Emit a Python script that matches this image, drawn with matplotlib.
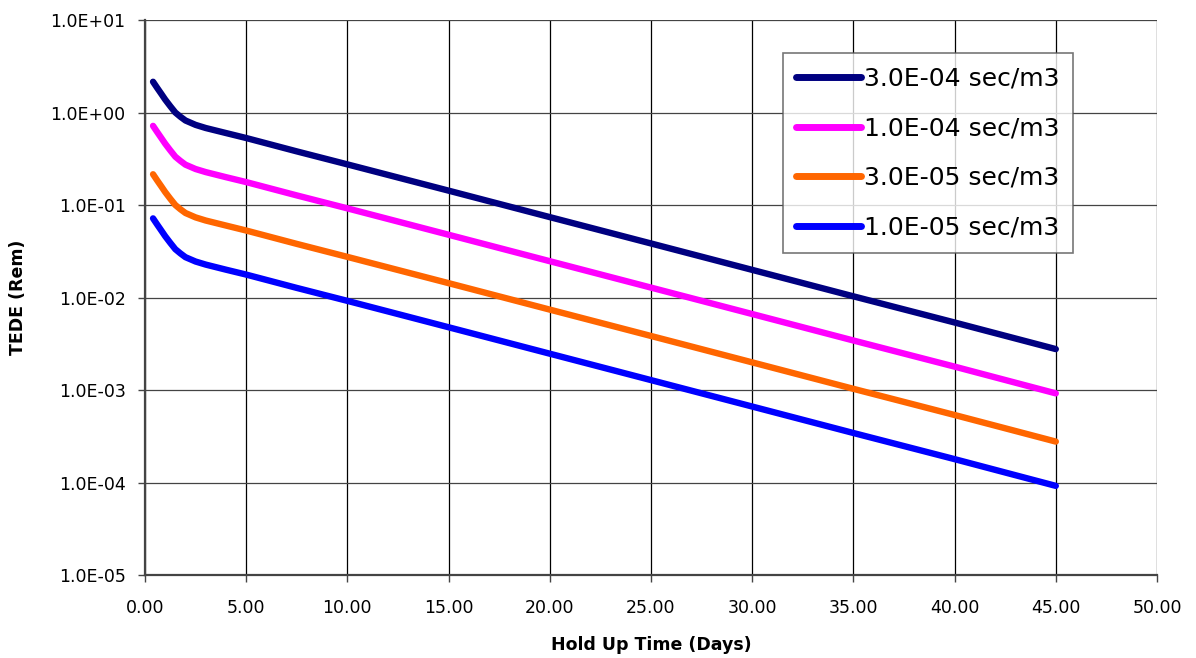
import matplotlib
matplotlib.use("Agg")
import matplotlib.pyplot as plt
from matplotlib.ticker import FixedLocator, FuncFormatter

# hold up time (days)
dias = [0.4, 0.6, 0.8, 1.0, 1.25, 1.5, 1.75, 2.0, 2.5, 3.0, 4.0, 5.0,
        7.5, 10.0, 15.0, 20.0, 25.0, 30.0, 35.0, 40.0, 45.0]

# TEDE (Rem)
tede_3e4 = [2.15, 1.85, 1.6, 1.38, 1.17, 1.0, 0.9, 0.82, 0.735, 0.68, 0.6, 0.53,
            0.38, 0.275, 0.143, 0.074, 0.0384, 0.0199, 0.0103, 0.00537, 0.00277]
tede_1e4 = [0.717, 0.617, 0.533, 0.46, 0.39, 0.333, 0.30, 0.273, 0.245, 0.227, 0.2, 0.177,
            0.127, 0.092, 0.0477, 0.0247, 0.0128, 0.00663, 0.00343, 0.00179, 0.00092]
tede_3e5 = [0.215, 0.185, 0.16, 0.138, 0.117, 0.10, 0.09, 0.082, 0.0735, 0.068, 0.06, 0.053,
            0.038, 0.0275, 0.0143, 0.0074, 0.00384, 0.00199, 0.00103, 0.000537, 0.000277]
tede_1e5 = [0.0717, 0.0617, 0.0533, 0.046, 0.039, 0.0333, 0.030, 0.0273, 0.0245, 0.0227, 0.020, 0.0177,
            0.0127, 0.0092, 0.00477, 0.00247, 0.00128, 0.000663, 0.000343, 0.000179, 0.000092]

series = [(tede_3e4, '#000080', '3.0E-04 sec/m3'),
          (tede_1e4, '#FF00FF', '1.0E-04 sec/m3'),
          (tede_3e5, '#FF6600', '3.0E-05 sec/m3'),
          (tede_1e5, '#0000FF', '1.0E-05 sec/m3')]

fig = plt.figure(figsize=(11.96, 6.58), dpi=100)
ax = fig.add_axes([0.1212, 0.1261, 0.8462, 0.8435])

for vals, col, lab in series:
    ax.plot(dias, vals, color=col, lw=4.6, label=lab,
            solid_capstyle='round', solid_joinstyle='round', zorder=3)

ax.set_yscale('log')
ax.set_ylim(1e-5, 1e1)
ax.set_xlim(0, 50)
ax.xaxis.set_major_locator(FixedLocator([0, 5, 10, 15, 20, 25, 30, 35, 40, 45, 50]))
ax.xaxis.set_major_formatter(FuncFormatter(lambda v, p: f'{v:.2f}'))
ax.yaxis.set_major_locator(FixedLocator([1e-5, 1e-4, 1e-3, 1e-2, 1e-1, 1e0, 1e1]))
ax.yaxis.set_minor_locator(FixedLocator([]))
ax.yaxis.set_major_formatter(FuncFormatter(lambda v, p: f'{v:.1E}'))

ax.grid(True, axis='x', color='black', lw=0.9)
ax.grid(True, axis='y', color='#444444', lw=0.9)
ax.set_axisbelow(True)

for s in ['top', 'right']:
    ax.spines[s].set_visible(False)
ax.spines['left'].set_color('#444444')
ax.spines['bottom'].set_color('#444444')
ax.spines['left'].set_linewidth(1.6)
ax.spines['bottom'].set_linewidth(1.6)
ax.tick_params(axis='both', direction='out', length=5, width=1, color='#444444',
               labelsize=12.5)
ax.tick_params(axis='x', pad=12)
ax.tick_params(axis='y', pad=9)

ax.set_xlabel('Hold Up Time (Days)', fontsize=12.5, fontweight='bold', labelpad=14)
ax.set_ylabel('TEDE (Rem)', fontsize=12.5, fontweight='bold', labelpad=17)

leg = ax.legend(loc='upper right', bbox_to_anchor=(0.917, 0.9405), fontsize=18,
                frameon=True, fancybox=False, edgecolor='#555555',
                handlelength=2.6, handletextpad=0.1, labelspacing=1.02,
                borderpad=0.55, borderaxespad=0)
leg.get_frame().set_linewidth(1.2)
for h in leg.get_lines():
    h.set_linewidth(5)

fig.savefig('out.png', dpi=100)
